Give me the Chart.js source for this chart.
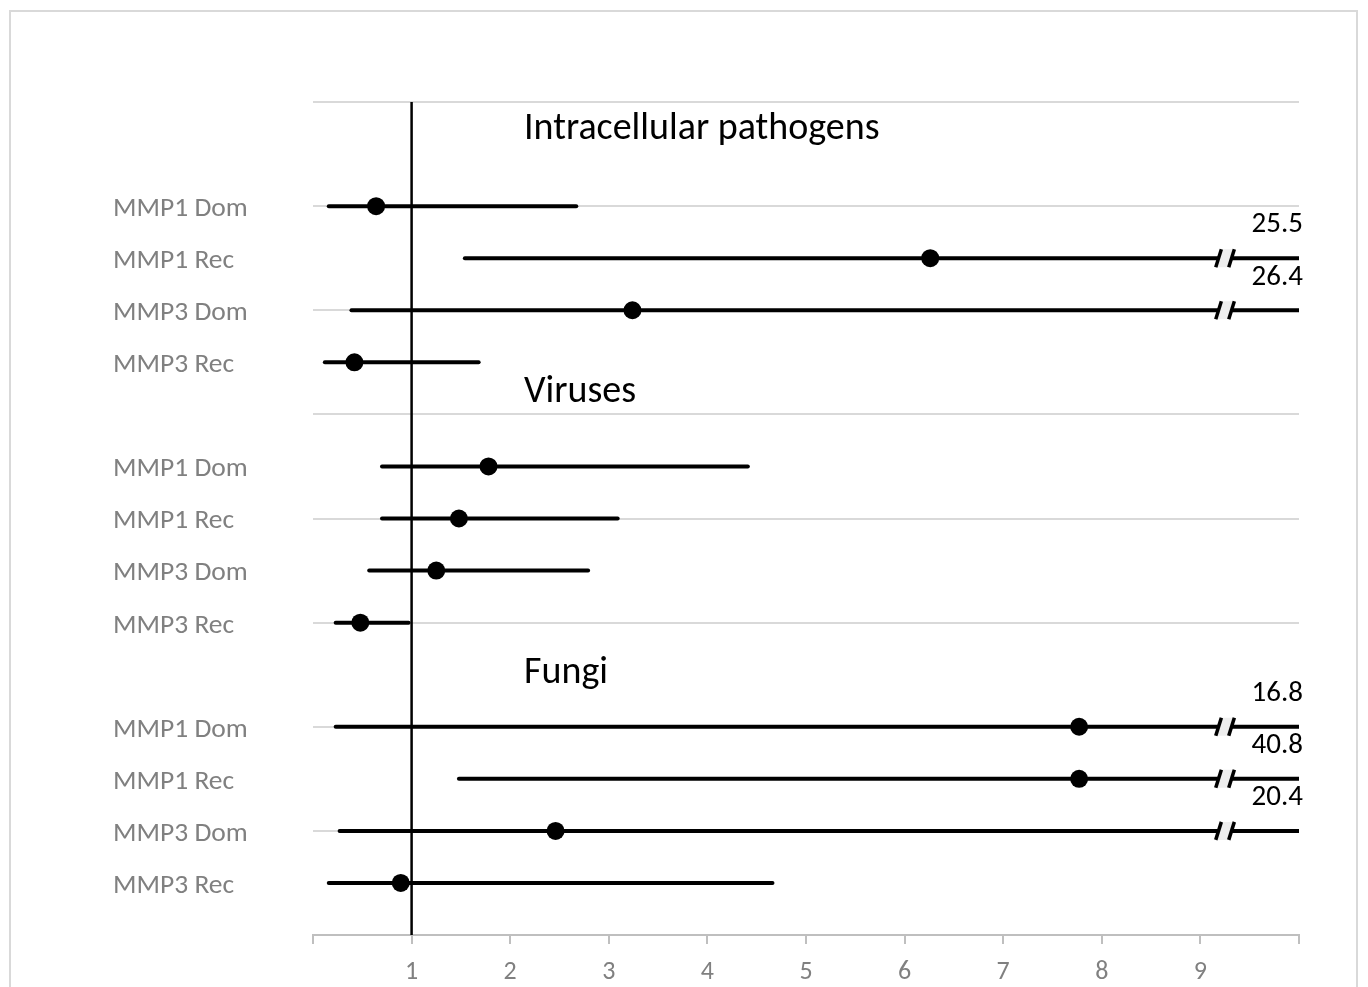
<!DOCTYPE html>
<html>
<head>
<meta charset="utf-8">
<script src="https://cdn.jsdelivr.net/npm/chart.js@4"></script>
<style>
  html, body { margin: 0; padding: 0; background: #fff; }
  #wrap { position: relative; width: 1368px; height: 987px; }
  #frame { position: absolute; left: 9px; top: 10px; width: 1349px; height: 990px; border: 2px solid #d9d9d9; box-sizing: border-box; }
  canvas { position: absolute; left: 0; top: 0; }
</style>
</head>
<body>
<div id="wrap">
  <div id="frame"></div>
  <canvas id="c" width="1368" height="987"></canvas>
</div>
<script>
// ---- data ----
const groupNames = ['Intracellular pathogens', 'Viruses', 'Fungi'];
const rowLabels = ['MMP1 Dom', 'MMP1 Rec', 'MMP3 Dom', 'MMP3 Rec'];
const estIntracellular = [0.64, 6.26, 3.24, 0.42];
const lowIntracellular = [0.16, 1.54, 0.39, 0.12];
const highIntracellular = [2.67, 25.5, 26.4, 1.68];
const estViruses = [1.78, 1.48, 1.25, 0.48];
const lowViruses = [0.70, 0.70, 0.57, 0.23];
const highViruses = [4.41, 3.09, 2.79, 0.97];
const estFungi = [7.77, 7.77, 2.46, 0.89];
const lowFungi = [0.23, 1.48, 0.27, 0.16];
const highFungi = [16.8, 40.8, 20.4, 4.66];
const xTickLabels = ['1', '2', '3', '4', '5', '6', '7', '8', '9'];
const xMin = 0, xMax = 10, refLine = 1;

const est = [estIntracellular, estViruses, estFungi];
const lows = [lowIntracellular, lowViruses, lowFungi];
const highs = [highIntracellular, highViruses, highFungi];

const FONT = 'Carlito, Lato, "Open Sans", sans-serif';

// y positions: each group occupies 4 rows + a header slot
const rows = [];
const yLabelMap = {};
for (let g = 0; g < groupNames.length; g++) {
  for (let r = 0; r < rowLabels.length; r++) {
    const y = 14 - 5 * g - r;
    rows.push({ y, est: est[g][r], low: lows[g][r], high: highs[g][r] });
    yLabelMap[y] = rowLabels[r];
  }
}

const datasets = [];
// reference line at OR = 1
datasets.push({
  data: [{ x: refLine, y: 0 }, { x: refLine, y: 16 }],
  showLine: true, borderColor: '#000', borderWidth: 2.5, pointRadius: 0, order: 3
});
// CI lines
rows.forEach(rw => {
  datasets.push({
    data: [{ x: rw.low, y: rw.y }, { x: Math.min(rw.high, xMax), y: rw.y }],
    showLine: true, borderColor: '#000', borderWidth: 4, pointRadius: 0, order: 2,
    borderCapStyle: 'round'
  });
});
// point estimates
datasets.push({
  data: rows.map(rw => ({ x: rw.est, y: rw.y })),
  showLine: false, pointRadius: 9, pointBackgroundColor: '#000', pointBorderColor: '#000',
  pointBorderWidth: 0, order: 1
});

const annotate = {
  id: 'annotate',
  afterDatasetsDraw(chart) {
    const { ctx, scales: { x, y }, chartArea } = chart;
    ctx.save();
    // group headings
    const headY = [15.48, 10.42, 5.02];
    ctx.fillStyle = '#000';
    ctx.font = '38px ' + FONT;
    ctx.textAlign = 'left';
    ctx.textBaseline = 'middle';
    groupNames.forEach((name, i) => {
      ctx.fillText(name, x.getPixelForValue(2.14), y.getPixelForValue(headY[i]));
    });
    // axis breaks and truncated upper values
    rows.forEach(rw => {
      if (rw.high <= xMax) return;
      const cx = x.getPixelForValue(9.25);
      const py = y.getPixelForValue(rw.y);
      const h = 9, s = 2.8, gap = 6.5;
      ctx.fillStyle = '#eeeeee';
      ctx.beginPath();
      ctx.moveTo(cx - gap - s, py + h);
      ctx.lineTo(cx - gap + s, py - h);
      ctx.lineTo(cx + gap + s, py - h);
      ctx.lineTo(cx + gap - s, py + h);
      ctx.closePath();
      ctx.fill();
      ctx.strokeStyle = '#000';
      ctx.lineWidth = 3.5;
      [cx - gap, cx + gap].forEach(sx => {
        ctx.beginPath();
        ctx.moveTo(sx - s, py + h);
        ctx.lineTo(sx + s, py - h);
        ctx.stroke();
      });
      ctx.fillStyle = '#000';
      ctx.font = '29px ' + FONT;
      ctx.textAlign = 'right';
      ctx.textBaseline = 'middle';
      ctx.fillText(rw.high.toFixed(1), chartArea.right + 4, py - 33);
    });
    ctx.restore();
  }
};

new Chart(document.getElementById('c'), {
  type: 'scatter',
  data: { datasets },
  options: {
    responsive: false,
    animation: false,
    events: [],
    layout: { padding: { left: 113, right: 69, top: 102, bottom: 2 } },
    plugins: { legend: { display: false }, tooltip: { enabled: false } },
    scales: {
      x: {
        type: 'linear', min: xMin, max: xMax,
        ticks: {
          stepSize: 1, color: '#808080', font: { family: FONT, size: 26 }, padding: 13,
          callback: v => (xTickLabels.includes(String(v)) ? String(v) : '')
        },
        grid: { drawOnChartArea: false, drawTicks: true, tickLength: 9, color: '#bfbfbf', lineWidth: 2 },
        border: { display: true, color: '#bfbfbf', width: 2 },
        afterFit: s => { s.height = 50; }
      },
      y: {
        type: 'linear', min: 0, max: 16,
        ticks: {
          stepSize: 1, autoSkip: false, color: '#808080', font: { family: FONT, size: 27.5 },
          crossAlign: 'far', labelOffset: 3,
          callback: v => yLabelMap[v] || ''
        },
        grid: {
          drawTicks: false,
          color: c => (c.tick && c.tick.value % 2 === 0 && c.tick.value !== 0 ? '#d9d9d9' : 'rgba(0,0,0,0)'),
          lineWidth: 2
        },
        border: { display: false },
        afterFit: s => { s.width = 200; }
      }
    }
  },
  plugins: [annotate]
});
</script>
</body>
</html>
